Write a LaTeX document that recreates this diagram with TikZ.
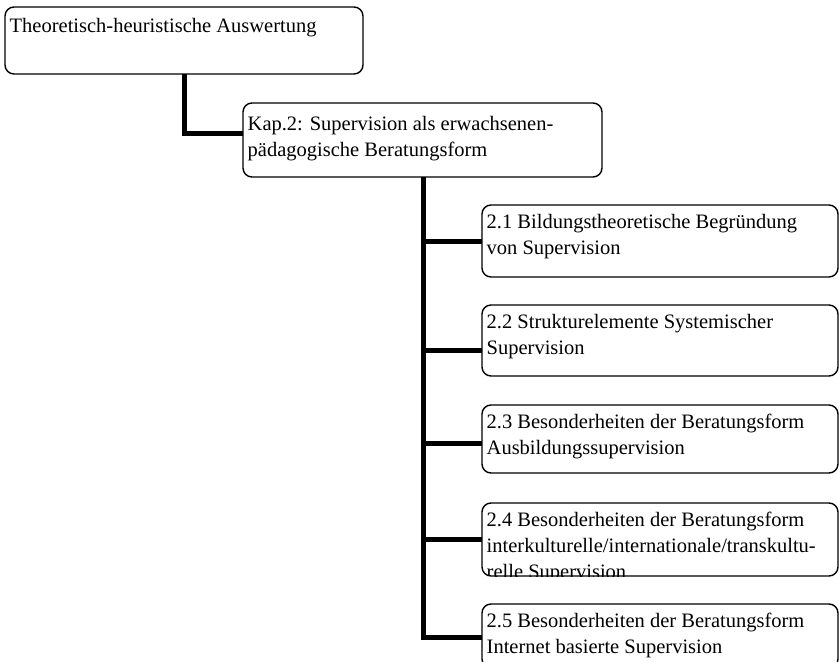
\documentclass[tikz,border=0pt]{standalone}
\usepackage{fontspec}
\setmainfont{Liberation Serif}
\newcommand\boxfont{\fontsize{20.5}{26}\selectfont}
\tikzset{
  boxstyle/.style={draw, rounded corners=9pt, line width=1.4pt, inner sep=0pt, outer sep=0pt, anchor=north west},
  conn/.style={line width=5pt, draw=black},
  boxtext/.style={anchor=north west, inner sep=0pt, align=left, font=\boxfont}
}
\newcommand\mkbox[7]{%
  \node[boxstyle, minimum width={(#4-#2)*1pt}, minimum height={(#5-#3)*1pt}] (#1) at (#2,#3) {};
  \begin{scope}
    \clip[rounded corners=9pt] (#1.north west) rectangle (#1.south east);
    \node[boxtext] (#1-t) at ([xshift=4.5pt, yshift=-#6pt]#1.north west) {#7};
  \end{scope}}
\begin{document}
\begin{tikzpicture}[x=1pt,y=-1pt]
\useasboundingbox (0,0) rectangle (839,662);
\fill[white] (0,0) rectangle (839,662);
\clip (0,0) rectangle (839,662);

\mkbox{top}{5}{7}{363}{74}{11}{Theoretisch-heuristische Auswertung}
\mkbox{kap}{243}{103}{602}{177}{13}{Kap.2: Supervision als erwachsenen-\\pädagogische Beratungsform}
\mkbox{b1}{482}{205}{838}{277}{9}{2.1 Bildungstheoretische Begründung\\von Supervision}
\mkbox{b2}{482}{305}{838}{376}{9}{2.2 Strukturelemente Systemischer\\Supervision}
\mkbox{b3}{482}{405}{838}{473}{9}{2.3 Besonderheiten der Beratungsform\\Ausbildungssupervision}
\mkbox{b4}{482}{503}{838}{576}{9}{2.4 Besonderheiten der Beratungsform\\interkulturelle/internationale/transkultu-\\relle Supervision}
\mkbox{b5}{482}{604}{838}{668}{9}{2.5 Besonderheiten der Beratungsform\\Internet basierte Supervision}

\coordinate (tj) at (184.5,133.5);
\coordinate (tr) at (423.5,0);
\coordinate (y1) at (0,241);
\coordinate (y2) at (0,350);
\coordinate (y3) at (0,443);
\coordinate (y4) at (0,539);
\coordinate (y5) at (0,637);

\draw[conn] (top.south -| tj) |- (kap.west |- tj);
\draw[conn] (kap.south -| tr) |- (b5.west |- y5);
\draw[conn] (tr |- y1) -- (b1.west |- y1);
\draw[conn] (tr |- y2) -- (b2.west |- y2);
\draw[conn] (tr |- y3) -- (b3.west |- y3);
\draw[conn] (tr |- y4) -- (b4.west |- y4);
\end{tikzpicture}
\end{document}
